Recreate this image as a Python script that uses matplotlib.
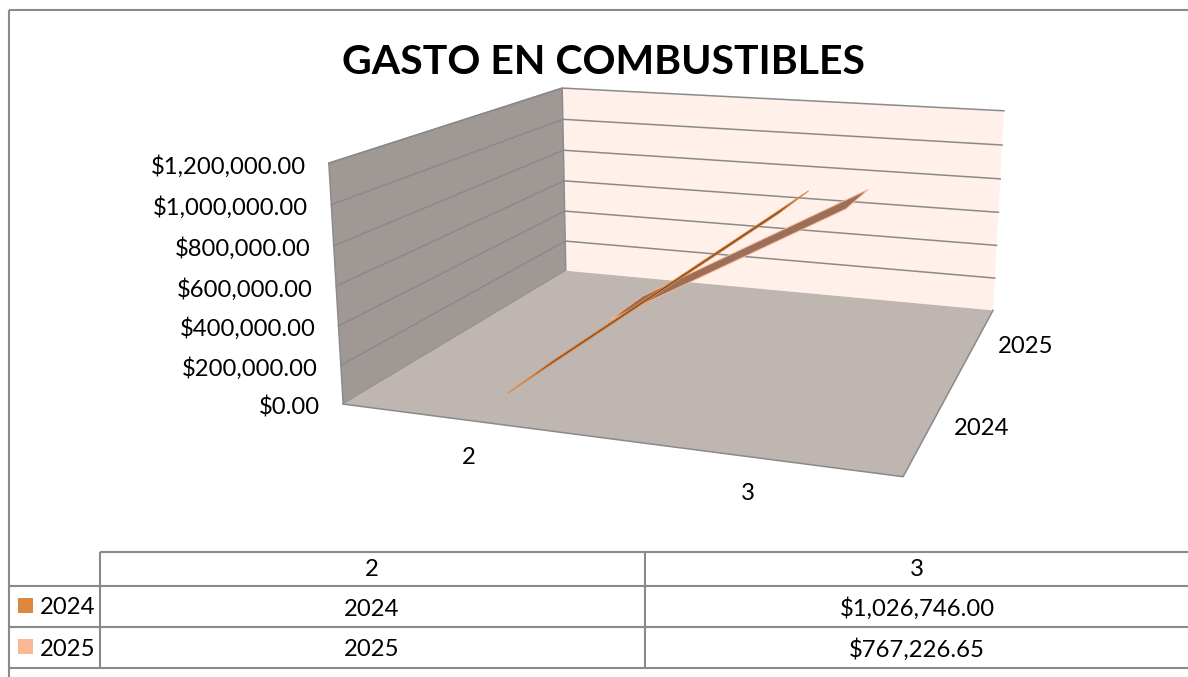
import numpy as np
import matplotlib
matplotlib.use("Agg")
import matplotlib.pyplot as plt
from matplotlib.patches import Polygon

TITLE = "GASTO EN COMBUSTIBLES"
categories = ["2", "3"]
series_names = ["2024", "2025"]
values_2024 = [2024.0, 1026746.00]
values_2025 = [2025.0, 767226.65]
table_2024 = ["2024", "$1,026,746.00"]
table_2025 = ["2025", "$767,226.65"]
value_ticks = [0, 200000, 400000, 600000, 800000, 1000000, 1200000]
VMAX = 1200000.0

FONT = "Lato"
FS = 17.2
GRID = "#8a8a8a"
COL = {"2024": "#dd8740", "2025": "#fbb792"}
SHADE = {"2024": "#7a4a22", "2025": "#9b6f5a"}

# Camera: unit cube corners -> pixel positions, solved as a projective map
cube = [(0,0,0),(1,0,0),(0,1,0),(1,1,0),(0,0,1),(0,1,1),(1,1,1)]
px = [(343,404),(903,477),(566,271),(993,310),(329,163),(562,88),(1004,111)]
A = []
for (u,v,w),(x,y) in zip(cube,px):
    A.append([u,v,w,1,0,0,0,0,-x*u,-x*v,-x*w,-x])
    A.append([0,0,0,0,u,v,w,1,-y*u,-y*v,-y*w,-y])
M = np.linalg.svd(np.array(A,float))[2][-1].reshape(3,4)
def P(u,v,w):
    q = M @ np.array([u,v,w,1.0])
    return q[0]/q[2], q[1]/q[2]

fig = plt.figure(figsize=(11.88,6.77),dpi=100)
ax = fig.add_axes([0,0,1,1])
ax.set_xlim(0,1188); ax.set_ylim(677,0); ax.axis("off")

def face(pts,color,edge="none",z=1):
    ax.add_patch(Polygon([P(*p) for p in pts],closed=True,fc=color,ec=edge,lw=1.0,zorder=z))
face([(0,1,0),(1,1,0),(1,1,1),(0,1,1)],"#fff0e9")
face([(0,0,0),(0,1,0),(0,1,1),(0,0,1)],"#9f9894",GRID)
face([(0,0,0),(1,0,0),(1,1,0),(0,1,0)],"#bfb5b1")
xs,ys = zip(P(0,0,0),P(1,0,0),P(1,1,0))
ax.plot(xs,ys,color=GRID,lw=1.1,zorder=2)

for t in value_ticks[1:]:
    w = t/VMAX
    xs,ys = zip(P(0,0,w),P(0,1,w),P(1,1,w))
    ax.plot(xs,ys,color=GRID,lw=1.1,zorder=2)
for t in value_ticks:
    x,y = P(0,0,t/VMAX)
    ax.text(x-23,y+3,f"${t:,.2f}",ha="right",va="center",fontsize=FS,family=FONT,color="black")

u_pos = [0.25,0.75]
v_pos = {"2024":0.25,"2025":0.75}
DV = 0.1
for name,vals in (("2025",values_2025),("2024",values_2024)):
    v = v_pos[name]
    a = vals[0]/VMAX; b = vals[1]/VMAX
    u0,u1 = u_pos
    ribbon = [P(u0,v-DV,a),P(u1,v-DV,b),P(u1,v+DV,b),P(u0,v+DV,a)]
    ax.add_patch(Polygon(ribbon,closed=True,fc=SHADE[name],ec=COL[name],lw=0.7,zorder=3))

for c,u in zip(categories,u_pos):
    x,y = P(u,0,0)
    ax.text(x-2,y+37,c,ha="center",va="center",fontsize=FS,family=FONT)
for s in series_names:
    x,y = P(1,v_pos[s],0)
    ax.text(x+50,y+4,s,ha="center",va="center",fontsize=FS,family=FONT)

ax.text(603,63,TITLE,ha="center",va="center",fontsize=29.5,fontweight="bold",family=FONT)

# Frame and data table
LW = 1.5
for xs,ys in [((9,9),(10,677)),((9,1188),(10,10)),((100,1188),(552,552)),((9,1188),(586,586)),
              ((9,1188),(627,627)),((9,1188),(668,668)),((100,100),(552,668)),((645,645),(552,668))]:
    ax.plot(xs,ys,color=GRID,lw=LW,solid_capstyle="butt",zorder=5)
cols = [372,917]
for c,x in zip(categories,cols):
    ax.text(x,570,c,ha="center",va="center",fontsize=FS,family=FONT)
for row,y,name in ((table_2024,607,"2024"),(table_2025,648,"2025")):
    for t,x in zip(row,cols):
        ax.text(x,y+2,t,ha="center",va="center",fontsize=FS,family=FONT)
    ax.add_patch(Polygon([(18,y-9),(33,y-9),(33,y+6),(18,y+6)],closed=True,fc=COL[name],ec="none",zorder=6))
    ax.text(40,y+1,name,ha="left",va="center",fontsize=FS,family=FONT)

fig.savefig("out.png",dpi=100)
